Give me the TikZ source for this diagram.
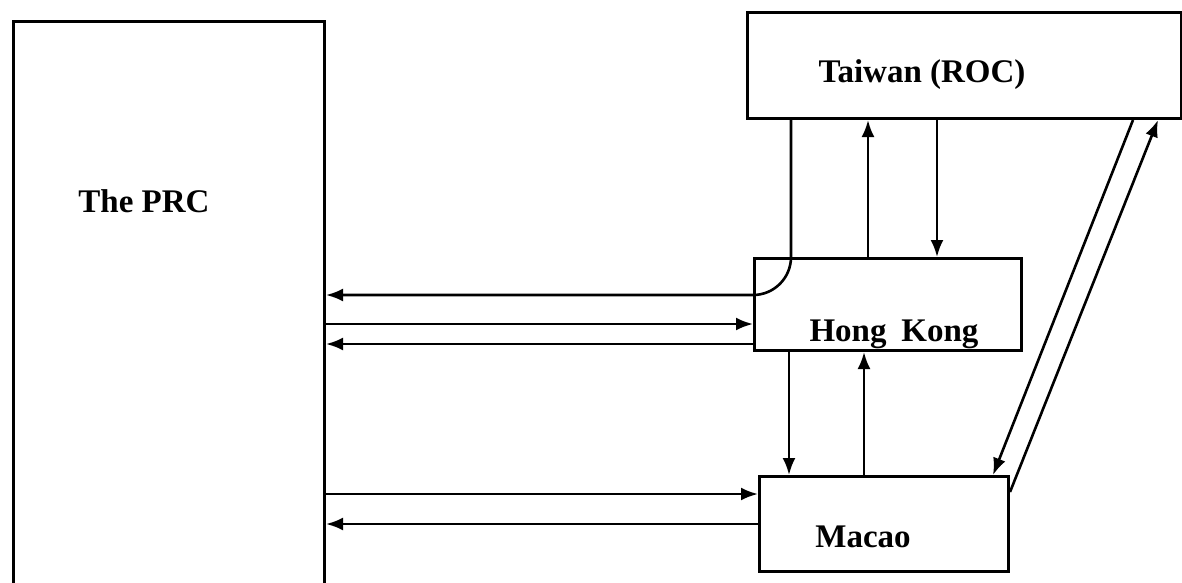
\documentclass[tikz,border=0pt]{standalone}
\usepackage{fontspec}
\setmainfont{Liberation Serif}
\usetikzlibrary{arrows.meta}
\begin{document}
\begin{tikzpicture}[x=1pt,y=1pt,
  boxst/.style={draw, line width=3pt, inner sep=0pt, anchor=north west},
  lbl/.style={font=\bfseries\fontsize{33}{33}\selectfont, anchor=base, inner sep=0pt},
  arr/.style={line width=2.6pt, -{Latex[length=17pt,width=13pt]}},
  ln/.style={line width=2.6pt}]
\useasboundingbox (0,0) rectangle (1182,-582);
\fill[white] (0,0) rectangle (1182,-582);
\node[boxst, minimum width=311pt, minimum height=580pt] (prc) at (12,-20) {};
\node[boxst, minimum width=434pt, minimum height=106pt] (tw) at (746,-11) {};
\node[boxst, minimum width=267pt, minimum height=92pt] (hk) at (753,-257) {};
\node[boxst, minimum width=249pt, minimum height=95pt] (mo) at (758,-475) {};
\node[lbl] (prct) at (144,-212) {The PRC};
\node[lbl] (twt) at (922,-82) {Taiwan (ROC)};
\node[lbl] (hkt) at (894,-341) {Hong\hspace{0.45em}Kong};
\node[lbl] (mot) at (863,-547) {Macao};
% Taiwan -> PRC through HK corner
\draw[arr] (tw.south -| 791,0) -- (791,-257) arc[start angle=0, end angle=-90, radius=38] -- (prc.east |- 0,-295);
% Taiwan <-> HK
\draw[arr] (hk.north -| 868,0) -- (tw.south -| 868,0);
\draw[arr] (tw.south -| 937,0) -- (hk.north -| 937,0);
% PRC <-> HK
\draw[arr] (prc.east |- 0,-324) -- (hk.west |- 0,-324);
\draw[arr] (hk.west |- 0,-344) -- (prc.east |- 0,-344);
% HK <-> Macao
\draw[arr] (hk.south -| 789,0) -- (mo.north -| 789,0);
\draw[arr] (mo.north -| 864,0) -- (hk.south -| 864,0);
% PRC <-> Macao
\draw[arr] (prc.east |- 0,-494) -- (mo.west |- 0,-494);
\draw[arr] (mo.west |- 0,-524) -- (prc.east |- 0,-524);
% Taiwan <-> Macao diagonals
\draw[arr] (tw.south -| 1133,0) -- (mo.north -| 993,0);
\draw[arr] (mo.east |- 0,-492) -- (tw.south -| 1158,0);
\end{tikzpicture}
\end{document}
